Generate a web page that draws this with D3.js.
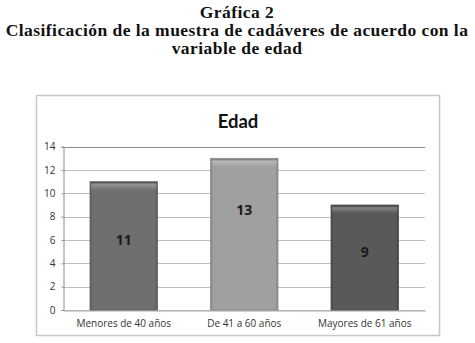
<!DOCTYPE html>
<html>
<head>
<meta charset="utf-8">
<script src="https://cdn.jsdelivr.net/npm/d3@7"></script>
<style>
  body { margin: 0; background: #fff; }
  svg { display: block; }
</style>
</head>
<body>
<div id="chart"></div>
<script>
// Header lines above the chart box
const headerLines = ["Gráfica 2", "Clasificación de la muestra de cadáveres de acuerdo con la", "variable de edad"];
const chartTitle = "Edad";

// Age groups and counts
const categories = ["Menores de 40 años", "De 41 a 60 años", "Mayores de 61 años"];
const counts = [11, 13, 9];
// where each value label sits, in axis units
const labelAt = [6.0, 8.6, 5.0];
const barColors = ["#6f6f6f", "#a0a0a0", "#595959"];

const yTicks = [0, 2, 4, 6, 8, 10, 12, 14];

const width = 475, height = 343;

const svg = d3.select("#chart")
  .append("svg")
    .attr("width", width)
    .attr("height", height);

const defs = svg.append("defs");

// header, bold serif (the original is Palatino-like, wider than Times)
const header = svg.append("g")
    .attr("font-family", "'Liberation Serif', 'DejaVu Serif', serif")
    .attr("font-weight", "bold")
    .attr("font-size", 17.5)
    .attr("letter-spacing", 0.45)
    .attr("fill", "#111")
    .attr("text-anchor", "middle");

header.selectAll("text")
  .data(headerLines)
  .enter().append("text")
    .attr("x", 237)
    .attr("y", (d, i) => 17.5 + i * 18)
    .text(d => d);

// chart box
svg.append("rect")
    .attr("x", 36.5)
    .attr("y", 95.5)
    .attr("width", 403)
    .attr("height", 240)
    .attr("fill", "#fff")
    .attr("stroke", "#c8c8c8")
    .attr("stroke-width", 1.5);

svg.append("text")
    .attr("x", 238)
    .attr("y", 127.5)
    .attr("text-anchor", "middle")
    .attr("font-family", "Lato, 'Open Sans', sans-serif")
    .attr("font-weight", "bold")
    .attr("font-size", 18.5)
    .attr("fill", "#111")
    .text(chartTitle);

const x = d3.scaleBand()
    .domain(categories)
    .range([63.5, 425])
    .paddingInner(0.44)
    .paddingOuter(0.22);

const y = d3.scaleLinear()
    .domain([0, 14])
    .range([310, 146.7]);

// gridlines
const grid = svg.append("g");
grid.selectAll("line")
  .data(yTicks)
  .enter().append("line")
    .attr("x1", 63.5)
    .attr("x2", 425)
    .attr("y1", d => Math.round(y(d)) + 0.5)
    .attr("y2", d => Math.round(y(d)) + 0.5)
    .attr("stroke", d => (d === 14 ? "#8c8c8c" : "#bdbdbd"))
    .attr("stroke-width", 1);

// y axis
const yAxis = svg.append("g")
    .attr("transform", "translate(63.5,0)")
    .call(d3.axisLeft(y).tickValues(yTicks).tickSize(2).tickPadding(6));

yAxis.select(".domain").attr("stroke", "#8c8c8c");
yAxis.selectAll(".tick line").attr("stroke", "#8c8c8c");
yAxis.selectAll("text")
    .attr("font-family", "'Open Sans', sans-serif")
    .attr("font-size", 10)
    .attr("fill", "#333");

// x axis labels
const xAxis = svg.append("g")
    .attr("transform", "translate(0,310.5)")
    .call(d3.axisBottom(x).tickSize(0).tickPadding(9));

xAxis.select(".domain").attr("stroke", "#a8a8a8");
xAxis.selectAll("text")
    .attr("font-family", "'Open Sans', sans-serif")
    .attr("font-size", 10)
    .attr("fill", "#333");

// gradients to give the bars a bevelled look
barColors.forEach((c, i) => {
  const dark = d3.color(c).darker(0.6);
  const g = defs.append("linearGradient")
      .attr("id", "side" + i)
      .attr("x1", 0).attr("x2", 1).attr("y1", 0).attr("y2", 0);
  g.append("stop").attr("offset", "0%").attr("stop-color", dark);
  g.append("stop").attr("offset", "4%").attr("stop-color", c);
  g.append("stop").attr("offset", "96%").attr("stop-color", c);
  g.append("stop").attr("offset", "100%").attr("stop-color", dark);
});

const topShade = defs.append("linearGradient")
    .attr("id", "topShade")
    .attr("x1", 0).attr("x2", 0).attr("y1", 0).attr("y2", 1);
topShade.append("stop").attr("offset", "0%").attr("stop-color", "#000").attr("stop-opacity", 0.3);
topShade.append("stop").attr("offset", "30%").attr("stop-color", "#fff").attr("stop-opacity", 0.25);
topShade.append("stop").attr("offset", "100%").attr("stop-color", "#fff").attr("stop-opacity", 0);

const rows = categories.map((c, i) => ({ cat: c, value: counts[i], label: labelAt[i], i: i }));

const bars = svg.append("g").selectAll("g")
  .data(rows)
  .enter().append("g");

bars.append("rect")
    .attr("x", d => x(d.cat))
    .attr("y", d => y(d.value))
    .attr("width", x.bandwidth())
    .attr("height", d => y(0) - y(d.value))
    .attr("fill", d => "url(#side" + d.i + ")")
    .attr("stroke", d => d3.color(barColors[d.i]).darker(0.4))
    .attr("stroke-width", 0.8);

bars.append("rect")
    .attr("x", d => x(d.cat) + 1)
    .attr("y", d => y(d.value) + 0.5)
    .attr("width", x.bandwidth() - 2)
    .attr("height", 8)
    .attr("fill", "url(#topShade)");

bars.append("text")
    .attr("x", d => x(d.cat) + x.bandwidth() / 2)
    .attr("y", d => y(d.label))
    .attr("dy", "0.35em")
    .attr("text-anchor", "middle")
    .attr("font-family", "'Open Sans', sans-serif")
    .attr("font-weight", "bold")
    .attr("font-size", 14)
    .attr("fill", "#1a1a1a")
    .text(d => d.value);
</script>
</body>
</html>
